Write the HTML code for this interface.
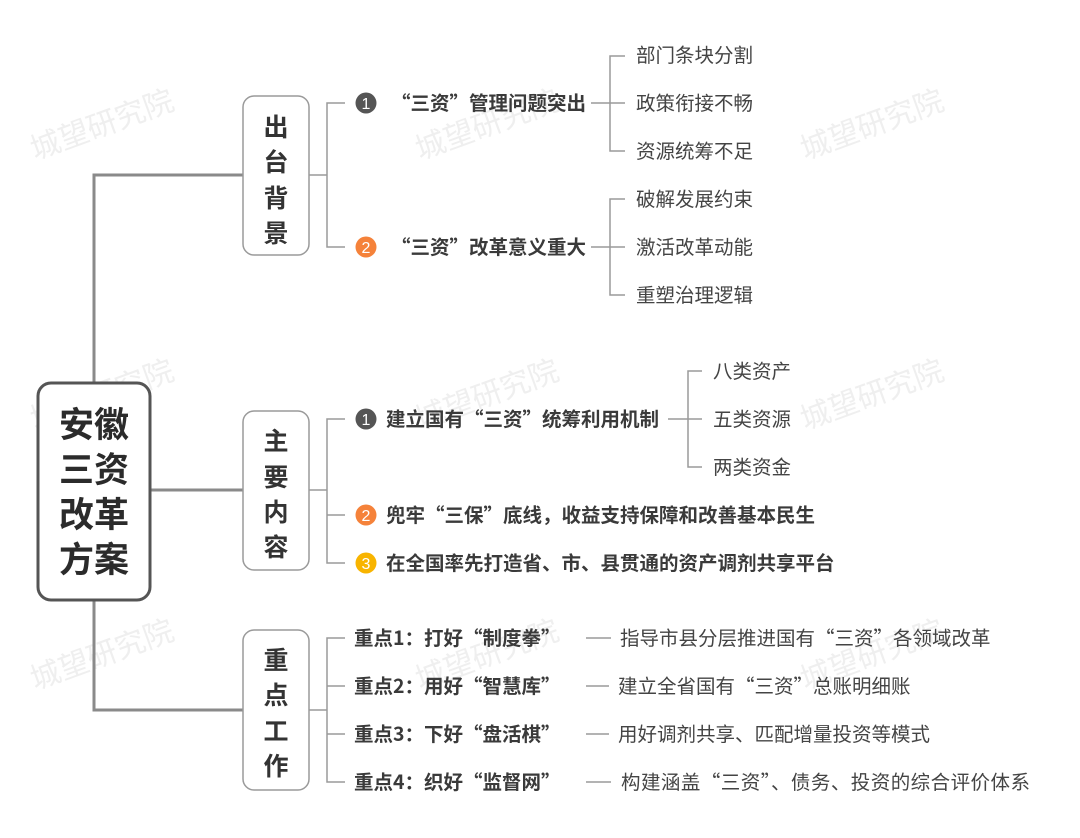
<!DOCTYPE html>
<html><head><meta charset="utf-8"><style>
html,body{margin:0;padding:0;background:#fff;}
svg{display:block;font-family:"Noto Sans CJK SC","Liberation Sans",sans-serif;}
.w{fill:#efefef;font-size:30px;}
.leaf{fill:#444;font-size:19.5px;}
.b{fill:#3a3a3a;font-size:19.5px;font-weight:bold;}
.n{fill:#fff;font-size:16px;text-anchor:middle;font-family:"Liberation Sans",sans-serif;}
.big{fill:#2b2b2b;font-size:35px;font-weight:bold;text-anchor:middle;}
.mid{fill:#333;font-size:25px;text-anchor:middle;font-weight:bold;}
</style></head><body>
<svg width="1080" height="838" viewBox="0 0 1080 838">
<g class="w">
<text transform="translate(35,160) rotate(-20)">城望研究院</text>
<text transform="translate(420,160) rotate(-20)">城望研究院</text>
<text transform="translate(805,160) rotate(-20)">城望研究院</text>
<text transform="translate(35,430) rotate(-20)">城望研究院</text>
<text transform="translate(420,430) rotate(-20)">城望研究院</text>
<text transform="translate(805,430) rotate(-20)">城望研究院</text>
<text transform="translate(35,690) rotate(-20)">城望研究院</text>
<text transform="translate(420,690) rotate(-20)">城望研究院</text>
<text transform="translate(805,690) rotate(-20)">城望研究院</text>
</g>
<g stroke="#8a8a8a" stroke-width="3" fill="none">
<path d="M243,175 H94 V382"/>
<path d="M94,600 V710 H243"/>
<path d="M150,490 H243"/>
</g>
<rect x="38" y="383" width="112" height="217" rx="13" fill="#fff" stroke="#555" stroke-width="3"/>
<text class="big" x="94" y="437">安徽</text>
<text class="big" x="94" y="482">三资</text>
<text class="big" x="94" y="527">改革</text>
<text class="big" x="94" y="572">方案</text>
<g fill="#fff" stroke="#9a9a9a" stroke-width="1.5">
<rect x="243" y="96" width="66" height="159" rx="11"/>
<rect x="243" y="411" width="66" height="159" rx="11"/>
<rect x="243" y="630" width="66" height="160" rx="11"/>
</g>
<g class="mid">
<text x="276" y="136">出</text><text x="276" y="171">台</text><text x="276" y="207">背</text><text x="276" y="242">景</text>
<text x="276" y="450">主</text><text x="276" y="486">要</text><text x="276" y="521">内</text><text x="276" y="556">容</text>
<text x="276" y="669">重</text><text x="276" y="704">点</text><text x="276" y="740">工</text><text x="276" y="775">作</text>
</g>
<g stroke="#9a9a9a" stroke-width="1.5" fill="none">
<path d="M309,175 H327 M345,103 H327 V247 H345"/>
<path d="M309,490 H327 M345,419 H327 V563 H345 M327,515 H345"/>
<path d="M309,710 H327 M345,638 H327 V782 H345 M327,686 H345 M327,734 H345"/>
<path d="M591,103 H625 M625,56 H610 V151 H625"/>
<path d="M591,247 H625 M625,199 H610 V295 H625"/>
<path d="M668,419 H702 M702,371 H688 V467 H702"/>
<path d="M586,638 H611 M586,686 H609 M586,734 H609 M586,782 H611"/>
</g>
<circle cx="366" cy="103" r="10.5" fill="#555"/><text class="n" x="366" y="109">1</text>
<circle cx="366" cy="247" r="10.5" fill="#f5823a"/><text class="n" x="366" y="253">2</text>
<circle cx="366" cy="419" r="10.5" fill="#555"/><text class="n" x="366" y="425">1</text>
<circle cx="366" cy="515" r="10.5" fill="#f5823a"/><text class="n" x="366" y="521">2</text>
<circle cx="366" cy="563" r="10.5" fill="#f8b400"/><text class="n" x="366" y="569">3</text>
<g class="b">
<text x="391" y="110">“三资”管理问题突出</text>
<text x="391" y="254">“三资”改革意义重大</text>
<text x="386" y="426">建立国有“三资”统筹利用机制</text>
<text x="386" y="522">兜牢“三保”底线，收益支持保障和改善基本民生</text>
<text x="386" y="570">在全国率先打造省、市、县贯通的资产调剂共享平台</text>
<text x="354" y="645">重点1：打好“制度拳”</text>
<text x="354" y="693">重点2：用好“智慧库”</text>
<text x="354" y="741">重点3：下好“盘活棋”</text>
<text x="354" y="789">重点4：织好“监督网”</text>
</g>
<g class="leaf">
<text x="636" y="62">部门条块分割</text>
<text x="636" y="110">政策衔接不畅</text>
<text x="636" y="158">资源统筹不足</text>
<text x="636" y="206">破解发展约束</text>
<text x="636" y="254">激活改革动能</text>
<text x="636" y="302">重塑治理逻辑</text>
<text x="713" y="378">八类资产</text>
<text x="713" y="426">五类资源</text>
<text x="713" y="474">两类资金</text>
<text x="620" y="645">指导市县分层推进国有“三资”各领域改革</text>
<text x="618" y="693">建立全省国有“三资”总账明细账</text>
<text x="618" y="741">用好调剂共享、匹配增量投资等模式</text>
<text x="621" y="789" textLength="409">构建涵盖“三资”、债务、投资的综合评价体系</text>
</g>
</svg>
</body></html>
